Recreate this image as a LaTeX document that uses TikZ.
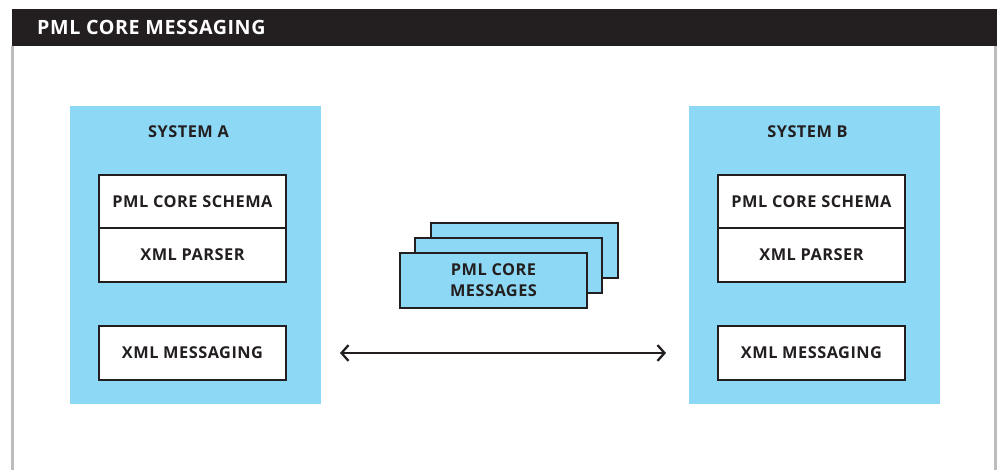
\documentclass[tikz,border=0pt]{standalone}
\usepackage{fontspec}
\setmainfont{Open Sans}[LetterSpace=3]
\usepackage{xcolor}
\usepackage{tikz}
\usetikzlibrary{arrows.meta}
\definecolor{sysblue}{HTML}{8DD8F5}
\definecolor{barblack}{HTML}{231F20}
\definecolor{framegray}{HTML}{BDBDC0}

\tikzset{
  box/.style={draw=barblack,line width=1.3pt,fill=white,inner sep=0pt,outer sep=0pt,
    minimum width=3.74cm,minimum height=1.07cm,font=\bfseries\fontsize{9.3}{12}\selectfont,
    text=barblack,align=center},
  msgbox/.style={box,fill=sysblue,minimum height=1.1cm},
  syslabel/.style={font=\bfseries\fontsize{9.3}{10}\selectfont,text=barblack}
}

\begin{document}
\begin{tikzpicture}[x=0.02cm,y=-0.02cm]
				\useasboundingbox (0,0) rectangle (997,470);
				\fill[barblack] (12,9) rectangle (997,46);
				\node[anchor=west,text=white,font=\bfseries\fontsize{11.2}{13}\selectfont] (title) at (31,27.5) {PML CORE MESSAGING};
				\draw[framegray,line width=1.5pt] (12.5,46) -- (12.5,470);
				\draw[framegray,line width=1.5pt] (995.5,46) -- (995.5,470);
				
				\fill[sysblue] (70,106) rectangle (321,404);%System A
				\fill[sysblue] (689,106) rectangle (940,404);%System B
				\node[syslabel] (sysA) at (188.5,132) {SYSTEM A};
				\node[syslabel] (sysB) at (807.5,132) {SYSTEM B};
				
				\node[box] (schemaA) at (192.5,201.5) {PML CORE SCHEMA};
				\node[box] (parserA) at (192.5,255) {XML PARSER};
				\node[box] (msgA) at (192.5,353) {XML MESSAGING};
				\node[box] (schemaB) at (811.5,201.5) {PML CORE SCHEMA};
				\node[box] (parserB) at (811.5,255) {XML PARSER};
				\node[box] (msgB) at (811.5,353) {XML MESSAGING};
				
				\node[msgbox] (stack3) at (524.5,250.5) {};
				\node[msgbox] (stack2) at (508.5,265.5) {};
				\node[msgbox] (stack1) at (493.5,280.5) {PML CORE\\MESSAGES};
				
				\draw[barblack,line width=1.3pt,{Straight Barb[length=4pt,width=9pt]}-{Straight Barb[length=4pt,width=9pt]},shorten <=1.08cm,shorten >=1.04cm] (msgA.east) -- (msgB.west);
			\end{tikzpicture}
\end{document}
